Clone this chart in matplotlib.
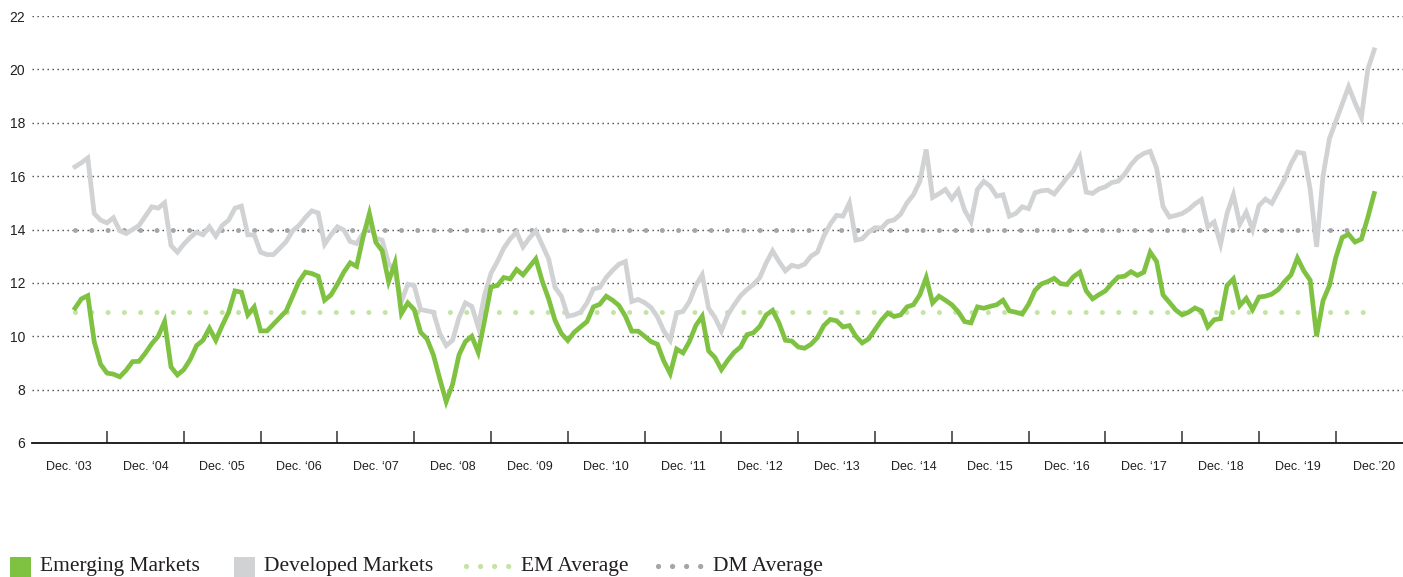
import numpy as np
import matplotlib
matplotlib.use("Agg")
import matplotlib.pyplot as plt
from matplotlib.patches import Rectangle
from matplotlib.lines import Line2D

# Monthly P/E ratios, Jan 2004 - Dec 2020
em_values = [
    11.05, 11.4, 11.52, 9.8, 8.95, 8.62, 8.58, 8.48, 8.73, 9.05,
    9.06, 9.37, 9.72, 10.0, 10.55, 8.85, 8.55, 8.75, 9.13, 9.65,
    9.85, 10.3, 9.85, 10.4, 10.9, 11.7, 11.65, 10.8, 11.1,
    10.2, 10.2, 10.45, 10.7, 10.95, 11.5, 12.05, 12.4, 12.35, 12.25,
    11.35, 11.55, 11.95, 12.4, 12.75, 12.62, 13.7, 14.6, 13.52, 13.2,
    12.05, 12.75, 10.85, 11.25, 11.0, 10.15, 9.9, 9.3, 8.4,
    7.55, 8.2, 9.3, 9.8, 10.0, 9.4, 10.6, 11.85, 11.9, 12.2,
    12.15, 12.5, 12.3, 12.6, 12.9, 12.07, 11.4, 10.6, 10.1, 9.84,
    10.15, 10.35, 10.55, 11.1, 11.2, 11.5, 11.35, 11.15, 10.75,
    10.19, 10.19, 10.0, 9.8, 9.7, 9.07, 8.6, 9.52, 9.375, 9.8,
    10.4, 10.75, 9.45, 9.2, 8.75, 9.1, 9.4, 9.6, 10.06, 10.13,
    10.37, 10.8, 10.97, 10.5, 9.85, 9.82, 9.6, 9.55, 9.7,
    9.95, 10.4, 10.63, 10.58, 10.35, 10.4, 10.0, 9.75, 9.9, 10.25,
    10.6, 10.87, 10.74, 10.8, 11.1, 11.18, 11.55, 12.2, 11.25, 11.5,
    11.35, 11.18, 10.92, 10.55, 10.5, 11.1, 11.05, 11.12, 11.18,
    11.35, 10.95, 10.9, 10.83, 11.2, 11.72, 11.96, 12.05, 12.17, 11.97,
    11.94, 12.23, 12.4, 11.7, 11.4, 11.56, 11.7, 11.98, 12.22, 12.25,
    12.42, 12.28, 12.4, 13.15, 12.8, 11.55, 11.27, 10.98, 10.8,
    10.9, 11.06, 10.95, 10.35, 10.62, 10.66, 11.9, 12.15, 11.15, 11.42,
    11.0, 11.47, 11.5, 11.58, 11.75, 12.05, 12.3, 12.93, 12.45, 12.1,
    10.0, 11.33, 11.9, 12.95, 13.7, 13.82, 13.53, 13.64, 14.45, 15.35,
]

dm_values = [
    16.35, 16.5, 16.68, 14.6, 14.35, 14.25, 14.44, 13.95, 13.85, 14.0,
    14.15, 14.5, 14.85, 14.8, 15.0, 13.4, 13.15, 13.45, 13.7, 13.9,
    13.8, 14.1, 13.75, 14.15, 14.35, 14.8, 14.875, 13.8, 13.8,
    13.15, 13.06, 13.06, 13.3, 13.55, 13.95, 14.15, 14.45, 14.7, 14.62,
    13.45, 13.8, 14.1, 13.98, 13.55, 13.475, 13.85, 14.2, 13.68, 13.6,
    12.73, 12.4, 11.3, 11.95, 11.9, 11.0, 10.95, 10.9, 10.1,
    9.65, 9.85, 10.7, 11.25, 11.12, 10.35, 11.55, 12.36, 12.8, 13.3,
    13.65, 13.9, 13.35, 13.68, 13.95, 13.42, 12.9, 11.83, 11.5, 10.75,
    10.8, 10.9, 11.25, 11.77, 11.83, 12.2, 12.47, 12.7, 12.8,
    11.3, 11.38, 11.26, 11.08, 10.73, 10.2, 9.85, 10.875, 10.93, 11.3,
    11.9, 12.3, 11.05, 10.7, 10.2, 10.8, 11.18, 11.52, 11.75, 11.94,
    12.2, 12.75, 13.2, 12.8, 12.45, 12.66, 12.6, 12.7, 13.0,
    13.15, 13.75, 14.2, 14.53, 14.5, 15.0, 13.6, 13.65, 13.9, 14.07,
    14.05, 14.3, 14.36, 14.57, 15.0, 15.3, 15.8, 17.0, 15.2, 15.34,
    15.5, 15.15, 15.47, 14.72, 14.3, 15.5, 15.8, 15.62, 15.25,
    15.3, 14.5, 14.6, 14.85, 14.78, 15.375, 15.45, 15.475, 15.33, 15.63,
    15.94, 16.2, 16.7, 15.4, 15.35, 15.52, 15.6, 15.76, 15.81, 16.07,
    16.43, 16.7, 16.85, 16.93, 16.3, 14.86, 14.47, 14.525, 14.6,
    14.75, 14.96, 15.12, 14.1, 14.28, 13.45, 14.6, 15.3, 14.2, 14.65,
    14.0, 14.9, 15.14, 14.98, 15.43, 15.88, 16.46, 16.9, 16.85, 15.5,
    13.35, 16.0, 17.4, 18.05, 18.7, 19.35, 18.75, 18.2, 20.0, 20.73,
]

em_average = 10.9
dm_average = 14.0

year_labels = ["Dec. \u201803", "Dec. \u201804", "Dec. \u201805", "Dec. \u201806",
               "Dec. \u201807", "Dec. \u201808", "Dec. \u201809", "Dec. \u201810",
               "Dec. \u201811", "Dec. \u201812", "Dec. \u201813", "Dec. \u201814",
               "Dec. \u201815", "Dec. \u201816", "Dec. \u201817", "Dec. \u201818",
               "Dec. \u201819", "Dec.\u201920"]
y_ticks = [6, 8, 10, 12, 14, 16, 18, 20, 22]

EM_GREEN = "#7fc241"
EM_LIGHT = "#c4e3a6"
DM_GRAY = "#d1d2d4"
DM_DARK = "#a5a6a9"
TEXT = "#231f20"

W, H = 1403, 577
fig = plt.figure(figsize=(W / 100, H / 100), dpi=100)
ax = fig.add_axes([32 / W, (H - 443) / H, 1 - 32 / W, (443 - 16) / H])

months = np.arange(len(em_values))

# averages first, so the series lines sit on top
ax.plot([0, len(em_values) - 1], [em_average] * 2, color=EM_LIGHT, lw=3.6,
        linestyle=(0, (0.01, 3.25)), dash_capstyle="round", zorder=2)
ax.plot([0, len(dm_values) - 1], [dm_average] * 2, color=DM_DARK, lw=3.6,
        linestyle=(0, (0.01, 3.25)), dash_capstyle="round", zorder=2)

ax.plot(months, dm_values, color=DM_GRAY, lw=3.4, solid_joinstyle="miter", zorder=3)
ax.plot(months, em_values, color=EM_GREEN, lw=3.4, solid_joinstyle="miter", zorder=4)

ax.set_xlim((32 - 75) / 6.4, (W - 75) / 6.4)
ax.set_ylim(6, 22)

for s in ["top", "right", "left"]:
    ax.spines[s].set_visible(False)
ax.spines["bottom"].set_color("#111111")
ax.spines["bottom"].set_linewidth(1.3)
ax.spines["bottom"].set_zorder(5)

ax.set_yticks(y_ticks)
ax.set_yticklabels([str(v) for v in y_ticks])
ax.tick_params(axis="y", length=0, pad=5, labelsize=10, labelcolor=TEXT)
ax.grid(axis="y", color="#444444", lw=1.0, linestyle=(0, (1, 2.6)), zorder=1)

# year boundaries as ticks, labels centred on each December
ax.set_xticks([12 * k + 5 for k in range(17)])
ax.set_xticklabels([])
ax.tick_params(axis="x", which="major", direction="in", length=9, width=1.1,
               color="#333333")
ax.set_xticks([12 * k - 1 for k in range(len(year_labels))], minor=True)
ax.set_xticklabels(year_labels, minor=True)
ax.tick_params(axis="x", which="minor", length=0, pad=13, labelsize=9,
               labelcolor=TEXT)
for lab in ax.get_xticklabels(minor=True):
    lab.set_fontfamily("Liberation Sans")
for lab in ax.get_yticklabels():
    lab.set_fontfamily("Liberation Sans")

# legend along the bottom edge
leg_font = dict(family="Liberation Serif", size=15.5, color=TEXT, va="baseline")
base_y = (H - 571) / H
fig.add_artist(Rectangle((10 / W, -0.01), 21 / W, (H - 557) / H + 0.01,
                         transform=fig.transFigure, color=EM_GREEN, lw=0))
fig.text(40 / W, base_y, "Emerging Markets", **leg_font)
fig.add_artist(Rectangle((234 / W, -0.01), 21 / W, (H - 557) / H + 0.01,
                         transform=fig.transFigure, color=DM_GRAY, lw=0))
fig.text(264 / W, base_y, "Developed Markets", **leg_font)

dot_y = (H - 566) / H
fig.add_artist(Line2D([466 / W, 509 / W], [dot_y, dot_y], transform=fig.transFigure,
                      color=EM_LIGHT, lw=3.8, linestyle=(0, (0.01, 2.65)),
                      dash_capstyle="round"))
fig.text(521 / W, base_y, "EM Average", **leg_font)
fig.add_artist(Line2D([658 / W, 701 / W], [dot_y, dot_y], transform=fig.transFigure,
                      color=DM_DARK, lw=3.8, linestyle=(0, (0.01, 2.65)),
                      dash_capstyle="round"))
fig.text(713 / W, base_y, "DM Average", **leg_font)

fig.savefig("out.png", dpi=100)
